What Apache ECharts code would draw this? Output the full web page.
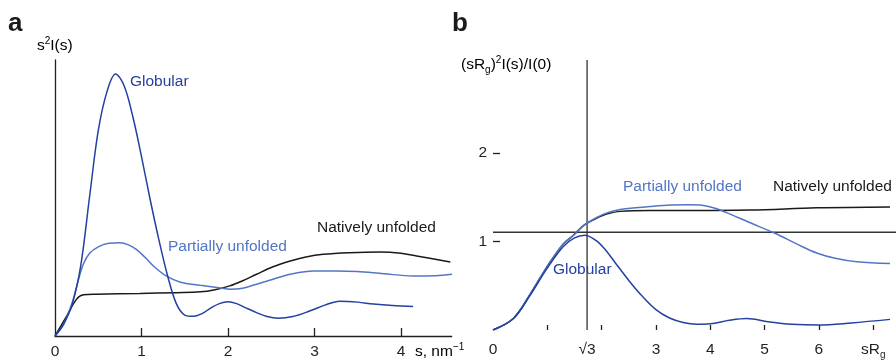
<!DOCTYPE html>
<html>
<head>
<meta charset="utf-8">
<script src="https://cdn.jsdelivr.net/npm/echarts@6/dist/echarts.min.js"></script>
<style>html,body{margin:0;padding:0;background:#fff}#c{width:896px;height:360px}</style>
</head>
<body>
<div id="c"></div>
<script>
// ---------- Panel a (s, s^2 I(s) in arbitrary units) ----------
var aGlobular = [[0,0],[0.1,12],[0.2,32],[0.3,72],[0.4,140],[0.5,206],[0.6,245],[0.7,263],[0.8,251],[0.9,220],[1.0,180],[1.1,137],[1.2,97],[1.3,61],[1.4,33],[1.5,21],[1.6,19.7],[1.7,22.5],[1.8,28],[1.9,32.5],[2.0,34.3],[2.1,32.5],[2.2,28.5],[2.33,23.5],[2.45,19.5],[2.58,17.7],[2.75,19.5],[2.95,25.3],[3.12,31],[3.29,35],[3.5,34],[3.68,32],[3.9,30.5],[4.14,29.7]];
var aPartial = [[0,0],[0.1,12],[0.2,34],[0.26,53],[0.327,72],[0.4,83],[0.5,89.5],[0.62,93],[0.75,93.7],[0.85,91.5],[0.94,87],[1.04,79],[1.14,70],[1.29,60],[1.45,54],[1.68,51],[1.85,49],[2.02,47],[2.17,48],[2.33,52],[2.52,57],[2.72,62],[2.99,65.3],[3.25,65.3],[3.49,64.7],[3.8,62.5],[4.14,60.3],[4.4,60.5],[4.59,62]];
var aNative = [[0,0],[0.135,20],[0.25,37],[0.33,41.3],[0.48,42],[0.98,42.7],[1.4,43.5],[1.68,44.3],[1.85,46.5],[2.02,50.3],[2.17,55.5],[2.33,62],[2.52,69.5],[2.72,75.3],[2.9,79.3],[3.1,82],[3.4,83.6],[3.76,84.3],[4.0,83],[4.18,80.3],[4.57,74.3]];
var aTicks = [1,2,3,4];
var aTickLabels = [0,1,2,3,4];

// ---------- Panel b (sRg, (sRg)^2 I(s)/I(0)) ----------
var bGlobular = [[0,0],[0.375,0.13],[0.68,0.39],[0.99,0.69],[1.29,0.94],[1.5,1.04],[1.69,1.07],[1.9,1.01],[2.05,0.92],[2.25,0.76],[2.5,0.56],[2.75,0.38],[3.0,0.23],[3.25,0.135],[3.5,0.085],[3.75,0.065],[4.0,0.07],[4.35,0.11],[4.67,0.13],[5.1,0.09],[5.5,0.065],[6.0,0.056],[6.6,0.08],[7.31,0.12]];
var bPartial = [[0,0],[0.375,0.13],[0.68,0.4],[0.99,0.71],[1.29,0.97],[1.48,1.07],[1.69,1.19],[1.97,1.29],[2.09,1.32],[2.34,1.36],[2.8,1.39],[3.2,1.41],[3.6,1.415],[3.85,1.41],[4.12,1.37],[4.4,1.3],[4.7,1.22],[5.2,1.09],[5.6,0.97],[5.96,0.87],[6.3,0.81],[6.7,0.77],[7.31,0.75]];
var bNative = [[0,0],[0.375,0.13],[0.68,0.4],[0.99,0.71],[1.29,0.97],[1.48,1.07],[1.69,1.19],[1.97,1.28],[2.09,1.31],[2.34,1.34],[2.89,1.35],[3.44,1.35],[4.73,1.355],[5.96,1.38],[7.31,1.39]];
var bSqrt3 = 1.7320508;
var bLevel = 1.104;
var bTicks = [1,2,3,4,5,6,7];
var bTickLabels = [0,1.7320508,3,4,5,6,7];
var bYTicks = [1,2];

var FONT = 'Liberation Sans, Arial, Helvetica, sans-serif';
var TXT = '#231f20';
var C_GLOB = '#2440a0';
var C_PART = '#5276c4';
var C_NAT = '#1a1a1a';
var FS = 15.5;

var chart = echarts.init(document.getElementById('c'), null, {renderer:'canvas'});

function line(name, data, color, xi, w){
  return {type:'line', name:name, xAxisIndex:xi, yAxisIndex:xi, data:data, smooth:0.35, showSymbol:false, symbol:'none',
          lineStyle:{color:color, width:w||1.5}, silent:true, animation:false, z:3};
}

var richBase = {
  n:{fontSize:FS, fontFamily:FONT, color:TXT, lineHeight:20},
  sup:{fontSize:10, fontFamily:FONT, color:TXT, verticalAlign:'top', lineHeight:20, padding:[0,0,0,0]},
  sub:{fontSize:10, fontFamily:FONT, color:TXT, verticalAlign:'bottom', lineHeight:20}
};

function txt(x, y, text, color, opts){
  opts = opts || {};
  return {type:'text', x:x, y:y, silent:true, z:10,
    style:{text:text, fill:color||TXT, font:(opts.bold?'bold ':'') + (opts.size||FS) + 'px ' + FONT,
           textAlign:opts.align||'left', textVerticalAlign:'middle'}};
}
function rtxt(x, y, text){
  return {type:'text', x:x, y:y, silent:true, z:10,
    style:{text:text, rich:richBase, textAlign:'left', textVerticalAlign:'middle'}};
}

var option = {
  animation:false,
  backgroundColor:'#fff',
  grid:[
    {left:55, top:60, width:396.7, height:277},
    {left:493, top:60, right:0, height:275}
  ],
  xAxis:[
    {type:'value', gridIndex:0, min:0, max:4.586,
     axisLine:{show:true, lineStyle:{color:TXT, width:1.3}},
     axisTick:{show:true, inside:true, length:8, customValues:aTicks, lineStyle:{color:TXT, width:1.3}},
     axisLabel:{show:true, customValues:aTickLabels, margin:8, fontSize:FS, fontFamily:FONT, color:TXT},
     splitLine:{show:false}},
    {type:'value', gridIndex:1, min:0, max:7.42,
     axisLine:{show:false},
     axisTick:{show:true, inside:true, length:5, customValues:bTicks, lineStyle:{color:TXT, width:1.3}},
     axisLabel:{show:true, customValues:bTickLabels, margin:10, fontSize:FS, fontFamily:FONT, color:TXT,
       formatter:function(v){
         if (Math.abs(v-1.7320508)<0.01) return '{n|\u221A3}';
         if (v===7) return '{n|sR}{sub|g}';
         return '{n|' + v + '}';
       },
       rich:richBase},
     splitLine:{show:false}}
  ],
  yAxis:[
    {type:'value', gridIndex:0, min:0, max:277,
     axisLine:{show:true, lineStyle:{color:TXT, width:1.3}},
     axisTick:{show:false}, axisLabel:{show:false}, splitLine:{show:false}},
    {type:'value', gridIndex:1, min:0, max:3.05,
     axisLine:{show:false},
     axisTick:{show:true, inside:true, length:7, customValues:bYTicks, lineStyle:{color:TXT, width:1.3}},
     axisLabel:{show:true, customValues:bYTicks, margin:6, fontSize:FS, fontFamily:FONT, color:TXT},
     splitLine:{show:false}}
  ],
  series:[
    line('Natively unfolded', aNative, C_NAT, 0),
    line('Partially unfolded', aPartial, C_PART, 0),
    line('Globular', aGlobular, C_GLOB, 0),
    {type:'line', xAxisIndex:1, yAxisIndex:1, data:[[bSqrt3,0],[bSqrt3,3.05]], showSymbol:false, symbol:'none',
     lineStyle:{color:'#333', width:1.3}, silent:true, z:2},
    {type:'line', xAxisIndex:1, yAxisIndex:1, data:[[0,bLevel],[7.42,bLevel]], showSymbol:false, symbol:'none',
     lineStyle:{color:'#333', width:1.3}, silent:true, z:2},
    line('Natively unfolded b', bNative, C_NAT, 1),
    line('Partially unfolded b', bPartial, C_PART, 1),
    line('Globular b', bGlobular, C_GLOB, 1)
  ],
  graphic:[
    txt(8, 24, 'a', '#1a1a1a', {bold:true, size:26}),
    txt(452, 24, 'b', '#1a1a1a', {bold:true, size:26}),
    rtxt(37, 46, '{n|s}{sup|2}{n|I(s)}'),
    rtxt(415, 352, '{n|s, nm}{sup|\u22121}'),
    rtxt(461, 65, '{n|(sR}{sub|g}{n|)}{sup|2}{n|I(s)/I(0)}'),
    txt(130, 82, 'Globular', C_GLOB),
    txt(168, 247, 'Partially unfolded', C_PART),
    txt(317, 228, 'Natively unfolded', C_NAT),
    txt(553, 270, 'Globular', C_GLOB),
    txt(623, 187, 'Partially unfolded', C_PART),
    txt(773, 187, 'Natively unfolded', C_NAT)
  ]
};
chart.setOption(option);
</script>
</body>
</html>
